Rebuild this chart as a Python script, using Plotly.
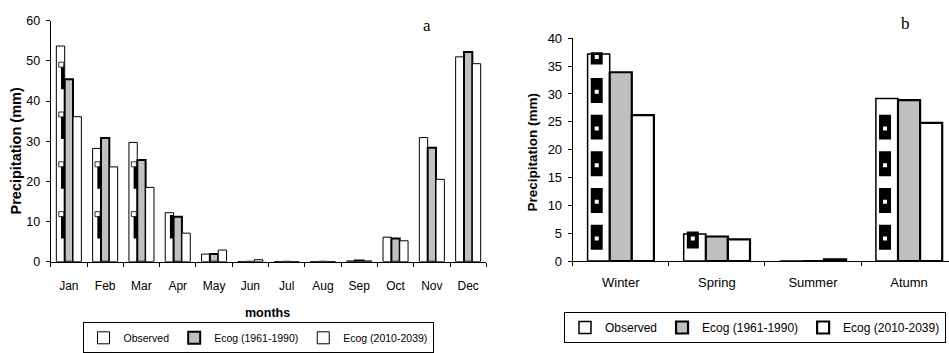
import plotly.graph_objects as go

# ---------------------------------------------------------------- data
months = ["Jan", "Feb", "Mar", "Apr", "May", "Jun",
          "Jul", "Aug", "Sep", "Oct", "Nov", "Dec"]
monthly_observed = [53.7, 28.2, 29.7, 12.2, 1.9, 0.0, 0.0, 0.0, 0.2, 6.1, 30.9, 51.0]
monthly_ecog_1961_1990 = [45.4, 30.8, 25.3, 11.2, 1.9, 0.0, 0.0, 0.0, 0.3, 5.8, 28.4, 52.2]
monthly_ecog_2010_2039 = [36.1, 23.6, 18.5, 7.1, 2.9, 0.5, 0.0, 0.0, 0.2, 5.2, 20.5, 49.3]

seasons = ["Winter", "Spring", "Summer", "Atumn"]
seasonal_observed = [37.2, 4.85, 0.0, 29.2]
seasonal_ecog_1961_1990 = [33.9, 4.4, 0.0, 28.9]
seasonal_ecog_2010_2039 = [26.2, 3.9, 0.3, 24.8]

series_names = ["Observed", "Ecog (1961-1990)", "Ecog (2010-2039)"]
patterned_months = ["Jan", "Feb", "Mar", "Apr"]

# ---------------------------------------------------------------- layout constants
W, H = 949, 353
BARGAP = 0.31
GRAY = "#c0c0c0"
SANS = "Liberation Sans, Arial, sans-serif"
SERIF = "Liberation Serif, Times New Roman, serif"

# panel a (months) and panel b (seasons) plot areas in pixels
A_X0, A_X1, A_Y0, A_Y1 = 50.7, 486.3, 20.7, 261.7
B_X0, B_Y0, B_Y1 = 572.7, 38.3, 261.0
B_CAT = 96.1                      # pixel width of one season slot
A_YMAX, B_YMAX = 60, 40

a_px_per_unit = (A_Y1 - A_Y0) / A_YMAX
b_px_per_unit = (B_Y1 - B_Y0) / B_YMAX
bar_w = (1 - BARGAP) / 3          # width of one bar in category units


def stripe_marks(xs, values, first, period, half, px_per_unit, min_px=2.0):
    """Periodic fill-pattern pieces inside a bar, clipped at the bar top."""
    out_x, out_y, out_s, out_info = [], [], [], []
    for x, v in zip(xs, values):
        c = first
        while c - half < v:
            lo, hi = c - half, min(c + half, v)
            if (hi - lo) * px_per_unit >= min_px:
                out_x.append(x)
                out_y.append((lo + hi) / 2)
                out_s.append((hi - lo) * px_per_unit)
                out_info.append((c, hi, v))
            c += period
    return out_x, out_y, out_s, out_info


fig = go.Figure()

# ---------------------------------------------------------------- panel a
a_idx = list(range(len(months)))
a_styles = [
    dict(color="white", line=dict(color="black", width=1)),
    dict(color=GRAY, line=dict(color="black", width=2)),
    dict(color="white", line=dict(color="black", width=1)),
]
for name, vals, st in zip(series_names,
                          [monthly_observed, monthly_ecog_1961_1990, monthly_ecog_2010_2039],
                          a_styles):
    fig.add_trace(go.Bar(x=a_idx, y=vals, name=name, marker=st,
                         xaxis="x", yaxis="y", legend="legend"))

# pattern pieces on the observed bars
pat_i = [months.index(m) for m in patterned_months]
pat_vals = [monthly_observed[i] for i in pat_i]
sx, sy, ss, sinfo = stripe_marks([i - bar_w * 0.74 for i in pat_i], pat_vals,
                                 8.7, 12.4, 2.1, a_px_per_unit)
fig.add_trace(go.Scatter(x=sx, y=sy, mode="markers", showlegend=False, hoverinfo="skip",
                         marker=dict(symbol="line-ns", size=ss, color="black", opacity=1,
                                     line=dict(color="black", width=3.3)),
                         xaxis="x", yaxis="y"))
bx, by = [], []
for x, (c, hi, v) in zip(sx, sinfo):
    if c + 3.15 + 0.85 <= v:
        bx.append(x - 0.04)
        by.append(c + 3.15)
fig.add_trace(go.Scatter(x=bx, y=by, mode="markers", showlegend=False, hoverinfo="skip",
                         marker=dict(symbol="square", size=5, color="white", opacity=1,
                                     line=dict(color="black", width=0.8)),
                         xaxis="x", yaxis="y"))

# ---------------------------------------------------------------- panel b
b_idx = list(range(len(seasons)))
b_styles = [
    dict(color="white", line=dict(color="black", width=1.5)),
    dict(color=GRAY, line=dict(color="black", width=2.2)),
    dict(color="white", line=dict(color="black", width=2.2)),
]
for name, vals, st in zip(series_names,
                          [seasonal_observed, seasonal_ecog_1961_1990, seasonal_ecog_2010_2039],
                          b_styles):
    fig.add_trace(go.Bar(x=b_idx, y=vals, name=name, marker=st,
                         xaxis="x2", yaxis="y2", legend="legend2"))

tx, ty, ts, tinfo = stripe_marks([i - bar_w - 0.02 for i in b_idx], seasonal_observed,
                                 4.28, 6.59, 1.6, b_px_per_unit)
fig.add_trace(go.Scatter(x=tx, y=ty, mode="markers", showlegend=False, hoverinfo="skip",
                         marker=dict(symbol="line-ns", size=ts, color="black", opacity=1,
                                     line=dict(color="black", width=12)),
                         xaxis="x2", yaxis="y2"))
fig.add_trace(go.Scatter(x=tx, y=[min(c - 0.25, hi - 0.55) for c, hi, v in tinfo],
                         mode="markers", showlegend=False, hoverinfo="skip",
                         marker=dict(symbol="square", size=4, color="white", opacity=1,
                                     line=dict(width=0)),
                         xaxis="x2", yaxis="y2"))

# ---------------------------------------------------------------- axes
def px_x(p):
    return p / W


def px_y(p):
    return 1 - p / H


axis_common = dict(showline=True, linecolor="black", linewidth=1, showgrid=False,
                   zeroline=False, tickcolor="black")

b_x_end = len(seasons) - 0.5 - (B_X0 + len(seasons) * B_CAT - W) / B_CAT

fig.update_layout(
    width=W, height=H,
    margin=dict(l=0, r=0, t=0, b=0, pad=0, autoexpand=False),
    paper_bgcolor="white", plot_bgcolor="white",
    font=dict(family=SANS, color="black"),
    barmode="group", bargap=BARGAP, bargroupgap=0,
    xaxis=dict(domain=[px_x(A_X0), px_x(A_X1)], anchor="y", range=[-0.5, 11.5],
               tickmode="array", tickvals=a_idx, ticktext=months, ticks="",
               ticklabelstandoff=13,
               minor=dict(tickmode="array", tickvals=[i - 0.5 for i in range(13)],
                          ticks="outside", ticklen=4, tickcolor="black", tickwidth=1),
               tickfont=dict(family=SANS, size=12, color="black"), **axis_common),
    yaxis=dict(domain=[px_y(A_Y1), px_y(A_Y0)], anchor="x", range=[0, A_YMAX],
               dtick=10, ticks="outside", ticklen=4, ticklabelstandoff=3,
               tickfont=dict(family=SANS, size=12.5, color="black"), **axis_common),
    xaxis2=dict(domain=[px_x(B_X0), 1.0], anchor="y2", range=[-0.5, b_x_end],
                tickmode="array", tickvals=b_idx, ticktext=seasons, ticks="",
                ticklabelstandoff=9,
                minor=dict(tickmode="array", tickvals=[i - 0.5 for i in range(5)],
                           ticks="outside", ticklen=4, tickcolor="black", tickwidth=1),
                tickfont=dict(family=SANS, size=13, color="black"), **axis_common),
    yaxis2=dict(domain=[px_y(B_Y1), px_y(B_Y0)], anchor="x2", range=[0, B_YMAX],
                dtick=5, ticks="outside", ticklen=4, ticklabelstandoff=3,
                tickfont=dict(family=SANS, size=13, color="black"), **axis_common),
    legend=dict(orientation="h", x=px_x(258), xanchor="center", y=px_y(322.3),
                yanchor="top", bgcolor="white", bordercolor="black", borderwidth=1,
                font=dict(family=SANS, size=10.5, color="black"),
                itemclick=False, itemdoubleclick=False),
    legend2=dict(orientation="h", x=px_x(755), xanchor="center", y=px_y(312),
                 yanchor="top", bgcolor="white", bordercolor="black", borderwidth=1,
                 font=dict(family=SANS, size=12, color="black"),
                 itemclick=False, itemdoubleclick=False),
    showlegend=True,
)

# ---------------------------------------------------------------- titles and panel letters
label_common = dict(xref="paper", yref="paper", showarrow=False,
                    xanchor="center", yanchor="middle")
fig.add_annotation(text="Precipitation (mm)", textangle=-90,
                   x=px_x(15.5), y=px_y(151),
                   font=dict(family=SANS, size=14.5, weight="bold", color="black"),
                   **label_common)
fig.add_annotation(text="months", x=px_x(267.5), y=px_y(313.3),
                   font=dict(family=SANS, size=12.5, weight="bold", color="black"),
                   **label_common)
fig.add_annotation(text="Precipitation (mm)", textangle=-90,
                   x=px_x(532), y=px_y(152.5),
                   font=dict(family=SANS, size=13.5, weight="bold", color="black"),
                   **label_common)
fig.add_annotation(text="a", x=px_x(426.7), y=px_y(25),
                   font=dict(family=SERIF, size=17, color="black"), **label_common)
fig.add_annotation(text="b", x=px_x(905), y=px_y(23),
                   font=dict(family=SERIF, size=17, color="black"), **label_common)

fig.write_html("out.html")
